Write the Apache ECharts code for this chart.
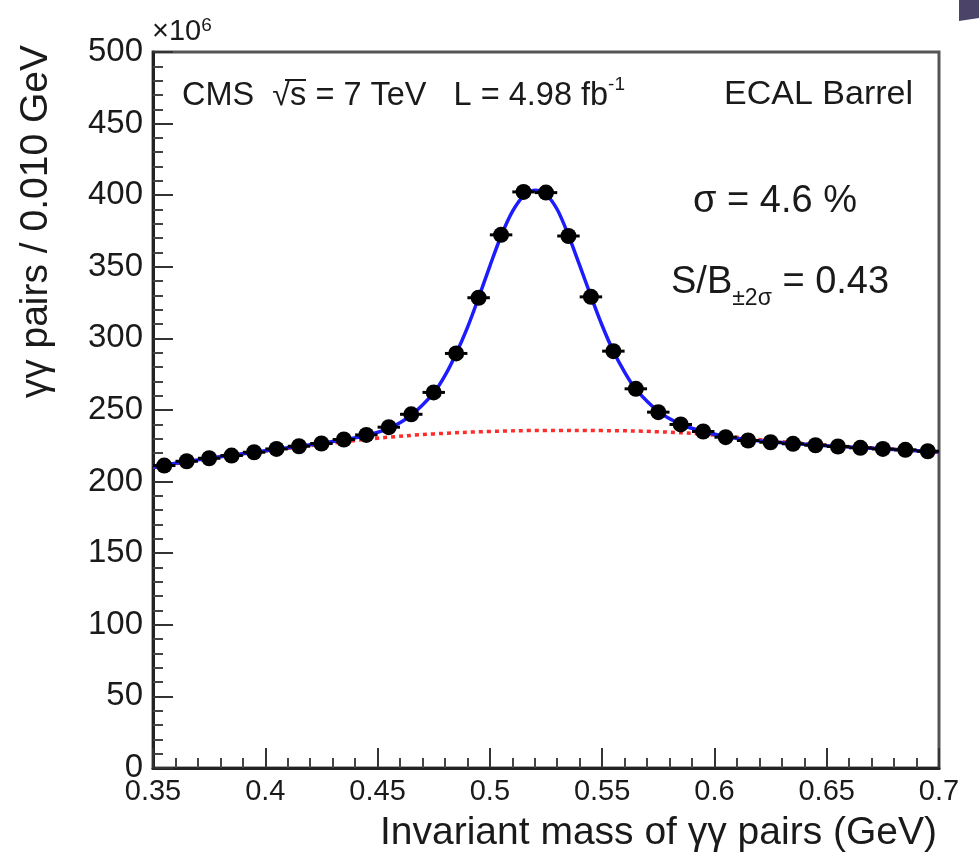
<!DOCTYPE html>
<html>
<head>
<meta charset="utf-8">
<script src="https://cdn.jsdelivr.net/npm/echarts@6/dist/echarts.min.js"></script>
<style>
html,body{margin:0;padding:0;background:#fff;}
#chart{width:979px;height:861px;}
</style>
</head>
<body>
<div id="chart"></div>
<script>
// ---- data (values in units of 10^6 pairs / 0.010 GeV) ----
const binCenters = [0.355,0.365,0.375,0.385,0.395,0.405,0.415,0.425,0.435,0.445,
  0.455,0.465,0.475,0.485,0.495,0.505,0.515,0.525,0.535,0.545,
  0.555,0.565,0.575,0.585,0.595,0.605,0.615,0.625,0.635,0.645,
  0.655,0.665,0.675,0.685,0.695];
const counts = [211.2,214.2,216.3,218.2,220.5,222.8,224.7,226.6,229.4,232.6,
  238.0,247.0,262.3,289.5,328.4,372.3,402.3,401.8,371.5,329.0,
  291.1,264.8,248.5,239.9,235.0,231.0,228.7,227.5,226.4,225.4,
  224.5,223.6,222.8,222.2,221.2];
const binHalfWidth = 0.005;

const fitMass = [0.35,0.355,0.365,0.375,0.385,0.395,0.405,0.415,0.425,0.435,0.445,0.455,0.465,
  0.475,0.48,0.485,0.49,0.495,0.50,0.505,0.51,0.515,0.52,0.525,0.53,0.535,0.54,0.545,0.55,0.555,0.56,
  0.565,0.575,0.585,0.595,0.605,0.615,0.625,0.635,0.645,0.655,0.665,0.675,0.685,0.695,0.70];
const fitTotal = [210,211.5,214,216.3,218.4,220.5,222.6,224.6,226.8,229.2,232.3,237.2,246.5,
  262.0,274,289.5,307.5,328.5,350.5,371.5,388.5,399.5,403.5,400.5,390,372,351,329.5,309,291,276.5,
  264.5,249,240,235,231.5,229.2,227.8,226.6,225.5,224.6,223.7,222.8,222,221.2,220.8];

const bkgMass = [0.35,0.375,0.40,0.425,0.45,0.475,0.50,0.525,0.55,0.575,0.60,0.625,0.65,0.675,0.70];
const bkgValues = [210,216,221.3,226,230.3,233.3,235,235.7,235.6,234.8,232.5,228.5,225.5,223,220.5];

const xTicks = ['0.35','0.4','0.45','0.5','0.55','0.6','0.65','0.7'];
const yTicks = ['0','50','100','150','200','250','300','350','400','450','500'];

// ---- chart ----
const FONT = '"Liberation Sans", Arial, sans-serif';
const TXT = '#1a1a1a';
const chart = echarts.init(document.getElementById('chart'), null, {renderer:'canvas'});

const pts = binCenters.map((x,i)=>[x,counts[i]]);
const fitPts = fitMass.map((x,i)=>[x,fitTotal[i]]);
const bkgPts = bkgMass.map((x,i)=>[x,bkgValues[i]]);

const option = {
  backgroundColor:'#fff',
  animation:false,
  grid:{left:153,right:40,top:52,bottom:93,show:true,borderColor:'#555',borderWidth:3,backgroundColor:'transparent'},
  xAxis:{
    type:'value',min:0.35,max:0.7,interval:0.05,
    axisLine:{lineStyle:{color:'#222',width:3}},
    axisTick:{inside:true,length:20,lineStyle:{color:'#333',width:2}},
    minorTick:{show:true,splitNumber:5,length:10,lineStyle:{color:'#444',width:2}},
    splitLine:{show:false},
    axisLabel:{color:TXT,fontFamily:FONT,fontSize:29,margin:9,
      formatter:(v)=>{const s=xTicks.find(t=>Math.abs(parseFloat(t)-v)<1e-6);return s||'';}}
  },
  yAxis:{
    type:'value',min:0,max:500,interval:50,
    axisLine:{show:true,lineStyle:{color:'#222',width:3}},
    axisTick:{show:true,inside:true,length:20,lineStyle:{color:'#333',width:2}},
    minorTick:{show:true,splitNumber:5,length:10,lineStyle:{color:'#444',width:2}},
    splitLine:{show:false},
    axisLabel:{color:TXT,fontFamily:FONT,fontSize:33,margin:10,
      formatter:(v)=>{const s=yTicks.find(t=>Math.abs(parseFloat(t)-v)<1e-6);return s||'';}}
  },
  series:[
    {type:'line',data:bkgPts,smooth:0.4,showSymbol:false,z:2,
      lineStyle:{color:'#ff2a2a',width:3.5,type:[4,4]}},
    {type:'line',data:fitPts,smooth:0.3,showSymbol:false,z:3,
      lineStyle:{color:'#1c1cff',width:3.5}},
    {type:'custom',z:4,data:pts,encode:{x:0,y:1},
      renderItem:function(params,api){
        const x=api.value(0), y=api.value(1);
        const a=api.coord([x-binHalfWidth,y]), b=api.coord([x+binHalfWidth,y]);
        return {type:'line',shape:{x1:a[0],y1:a[1],x2:b[0],y2:b[1]},style:{stroke:'#000',lineWidth:3}};
      }},
    {type:'scatter',data:pts,symbol:'circle',symbolSize:16,z:5,
      itemStyle:{color:'#000',opacity:1}}
  ],
  graphic:[
    {type:'text',left:152,top:16,style:{
      text:'{a|×10}{s|6}',
      rich:{a:{fontFamily:FONT,fontSize:29,fill:TXT,lineHeight:30,verticalAlign:'bottom'},
            s:{fontFamily:FONT,fontSize:19,fill:TXT,lineHeight:30,verticalAlign:'top'}}}},
    {type:'text',x:36,y:45,rotation:Math.PI/2,style:{
      text:'γγ pairs / 0.010 GeV',fontFamily:FONT,fontSize:39,fill:TXT,align:'right',verticalAlign:'middle'}},
    {type:'text',x:937,y:833,style:{
      text:'Invariant mass of γγ pairs (GeV)',fontFamily:FONT,fontSize:39,fill:TXT,align:'right',verticalAlign:'middle'}},
    {type:'text',left:182,top:75,style:{
      text:'{a|CMS  √s = 7 TeV   L = 4.98 fb}{s|-1}',
      rich:{a:{fontFamily:FONT,fontSize:32.5,fill:TXT,lineHeight:38,verticalAlign:'bottom'},
            s:{fontFamily:FONT,fontSize:19,fill:TXT,lineHeight:38,verticalAlign:'top'}}}},
    {type:'line',shape:{x1:285,y1:80,x2:306,y2:80},style:{stroke:TXT,lineWidth:2}},
    {type:'text',x:913,y:95,style:{
      text:'ECAL Barrel',fontFamily:FONT,fontSize:34,fill:TXT,align:'right',verticalAlign:'middle'}},
    {type:'text',x:693,y:202,style:{
      text:'σ = 4.6 %',fontFamily:FONT,fontSize:38,fill:TXT,align:'left',verticalAlign:'middle'}},
    {type:'text',left:671,top:264,style:{
      text:'{a|S/B}{b|±2σ}{a| = 0.43}',
      rich:{a:{fontFamily:FONT,fontSize:38,fill:TXT,lineHeight:46,verticalAlign:'top'},
            b:{fontFamily:FONT,fontSize:23,fill:TXT,lineHeight:46,verticalAlign:'bottom'}}}},
    {type:'polygon',shape:{points:[[959,0],[979,0],[979,18],[959,21]]},style:{fill:'#4b4468'}}
  ]
};
chart.setOption(option);
</script>
</body>
</html>
